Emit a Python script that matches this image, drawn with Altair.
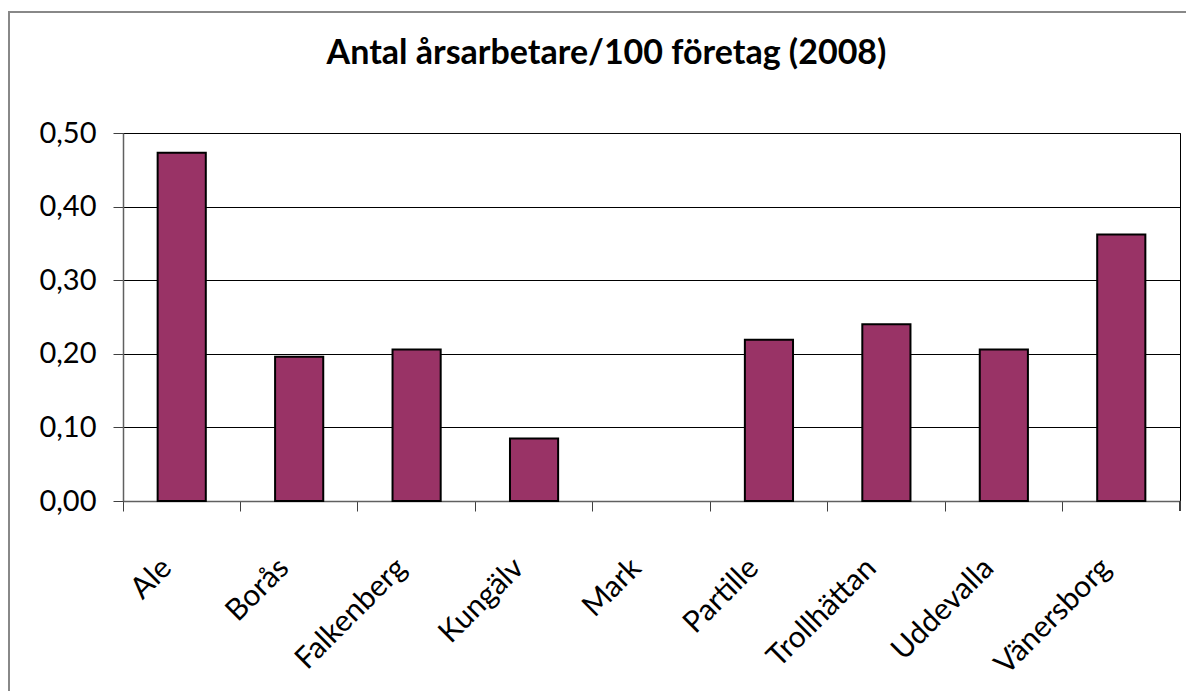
import altair as alt
import pandas as pd

categories = ["Ale", "Borås", "Falkenberg", "Kungälv", "Mark", "Partille",
              "Trollhättan", "Uddevalla", "Vänersborg"]
values = [0.473, 0.196, 0.206, 0.085, 0.0, 0.219, 0.240, 0.206, 0.362]
y_ticks = [0.0, 0.1, 0.2, 0.3, 0.4, 0.5]
title_text = "Antal årsarbetare/100 företag (2008)"

df = pd.DataFrame({"kommun": categories, "varde": values})

W, H = 1057, 368
FONT = "Lato"

x_scale = alt.Scale(paddingInner=0, paddingOuter=0)
y_enc = alt.Y(
    "varde:Q",
    scale=alt.Scale(domain=[0, 0.5]),
    axis=alt.Axis(
        values=y_ticks, title=None,
        labelExpr="replace(format(datum.value, '.2f'), '.', ',')",
        labelFont=FONT, labelFontSize=29, labelColor="black", labelPadding=17,
        tickSize=10, tickColor="#404040", domainColor="#606060", domainWidth=1.5,
        grid=True, gridColor="black", gridWidth=1,
    ),
)

bars = alt.Chart(df).mark_bar(
    fill="#993366", stroke="black", strokeWidth=2,
    width=alt.RelativeBandSize(0.41),
).encode(
    x=alt.X("kommun:N", sort=categories, scale=x_scale,
            axis=alt.Axis(title=None, orient="bottom", labelAngle=-45, labelAlign="right",
                          labelBaseline="middle", ticks=False, domain=False, grid=False,
                          labelFont=FONT, labelFontSize=30, labelColor="black",
                          labelPadding=62, labelOffset=-15)),
    y=y_enc,
    strokeOpacity=alt.condition("datum.varde <= 0", alt.value(0), alt.value(1)),
)

tick_layer = alt.Chart(df).mark_bar(opacity=0).encode(
    x=alt.X("kommun:N", sort=categories, scale=x_scale,
            axis=alt.Axis(title=None, orient="bottom", labels=False, bandPosition=0,
                          tickSize=10, tickColor="#404040", domainColor="#606060",
                          domainWidth=1.5, grid=False)),
    y=y_enc,
)

last_tick = alt.Chart(df).mark_rule(color="#404040", strokeWidth=1).encode(
    x=alt.value(W), y=alt.value(H), y2=alt.value(H + 10)
)

border = alt.Chart(df).mark_rect(fill=None, stroke="#888888", strokeWidth=2).encode(
    x=alt.value(-114), x2=alt.value(W + 200), y=alt.value(-121), y2=alt.value(H + 400)
)

chart = alt.layer(border, tick_layer, bars, last_tick).resolve_axis(x="independent").properties(
    width=W, height=H,
    autosize=alt.AutoSizeParams(type="none"),
    padding={"left": 115, "top": 125, "right": 6, "bottom": 190},
    title=alt.TitleParams(title_text, font=FONT, fontSize=34, fontWeight="bold",
                          color="black", anchor="middle", dx=-45, offset=-87,
                          baseline="alphabetic"),
).configure_view(stroke="black", strokeWidth=1)

chart.save("out.html", embed_options={"renderer": "svg", "actions": False})
